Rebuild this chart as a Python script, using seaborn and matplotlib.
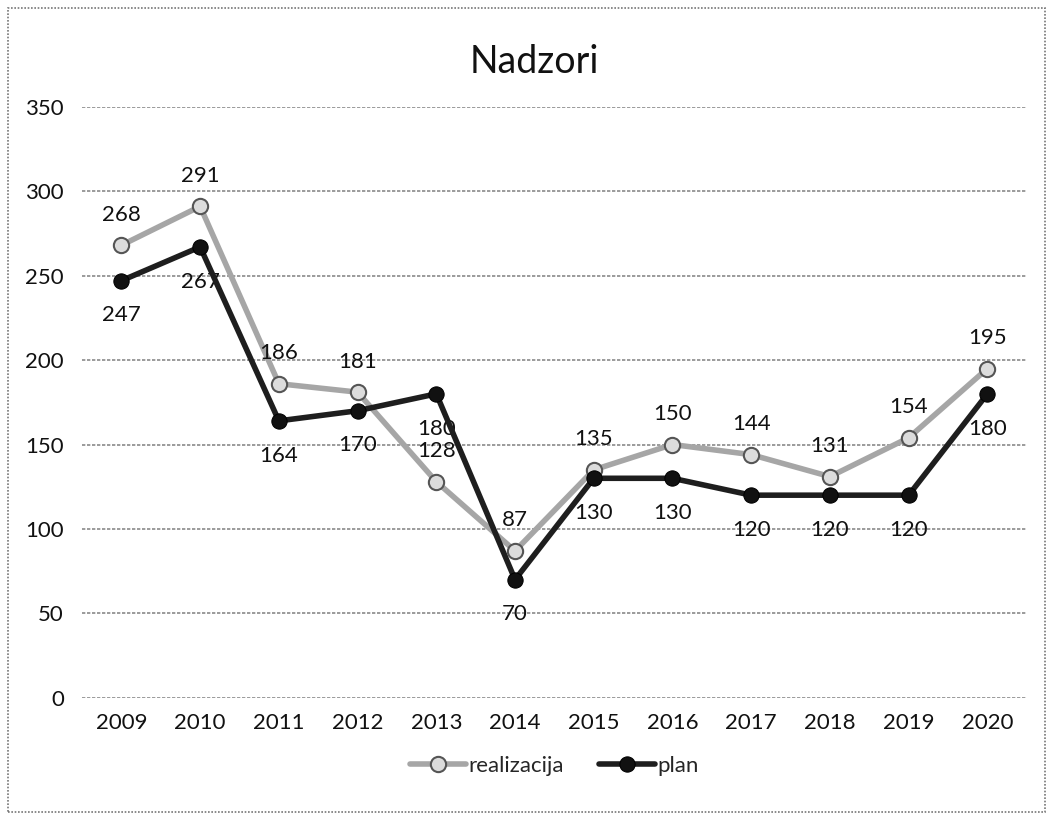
import matplotlib
matplotlib.use("Agg")
import matplotlib.pyplot as plt
import seaborn as sns
import pandas as pd

years = ["2009", "2010", "2011", "2012", "2013", "2014",
         "2015", "2016", "2017", "2018", "2019", "2020"]
realizacija = [268, 291, 186, 181, 128, 87, 135, 150, 144, 131, 154, 195]
plan = [247, 267, 164, 170, 180, 70, 130, 130, 120, 120, 120, 180]

sns.set_style("white")
plt.rcParams['font.family'] = ['Lato', 'DejaVu Sans']

df = pd.DataFrame({"year": years, "realizacija": realizacija, "plan": plan})
df["x"] = range(len(years))

fig = plt.figure(figsize=(10.52, 8.21), dpi=100)
ax = fig.add_axes([0.078, 0.15, 0.898, 0.72])

# chart border
fig.patches.append(plt.Rectangle((0.008, 0.011), 0.985, 0.979, transform=fig.transFigure,
                                 fill=False, edgecolor="#777777", linewidth=1.2, linestyle=(0, (1, 1))))

sns.lineplot(data=df, x="x", y="realizacija", ax=ax, color="#a6a6a6", linewidth=4,
             marker="o", markersize=11, markerfacecolor="#dcdcdc", markeredgecolor="#555555",
             markeredgewidth=1.5, label="realizacija", zorder=3)
sns.lineplot(data=df, x="x", y="plan", ax=ax, color="#1e1e1e", linewidth=4,
             marker="o", markersize=11, markerfacecolor="#111111", markeredgecolor="#000000",
             label="plan", zorder=4)

for i in range(len(years)):
    ax.annotate(str(realizacija[i]), (i, realizacija[i]), xytext=(0, 22), textcoords="offset points",
                ha="center", va="center", fontsize=16, color="#111111")
    ax.annotate(str(plan[i]), (i, plan[i]), xytext=(0, -25), textcoords="offset points",
                ha="center", va="center", fontsize=16, color="#111111")

ax.set_xlim(-0.5, len(years) - 0.5)
ax.set_ylim(0, 350)
ax.set_yticks(range(0, 351, 50))
ax.set_xticks(df["x"])
ax.set_xticklabels(years)
ax.yaxis.grid(True, color="#8a8a8a", linewidth=1.2, linestyle=(0, (2, 1)))
ax.set_axisbelow(True)
for s in ax.spines.values():
    s.set_visible(False)
ax.tick_params(axis="both", length=0, labelsize=16, colors="#111111", pad=11)
ax.tick_params(axis="y", pad=13)
ax.set_xlabel("")
ax.set_ylabel("")
fig.text(0.508, 0.924, "Nadzori", ha="center", va="center", fontsize=27, color="#111111")

ax.legend(loc="upper center", bbox_to_anchor=(0.5, -0.065), ncol=2, frameon=False,
          fontsize=16, handlelength=2.5, handletextpad=0.1, columnspacing=1.6)

fig.savefig("out.png", dpi=100)
